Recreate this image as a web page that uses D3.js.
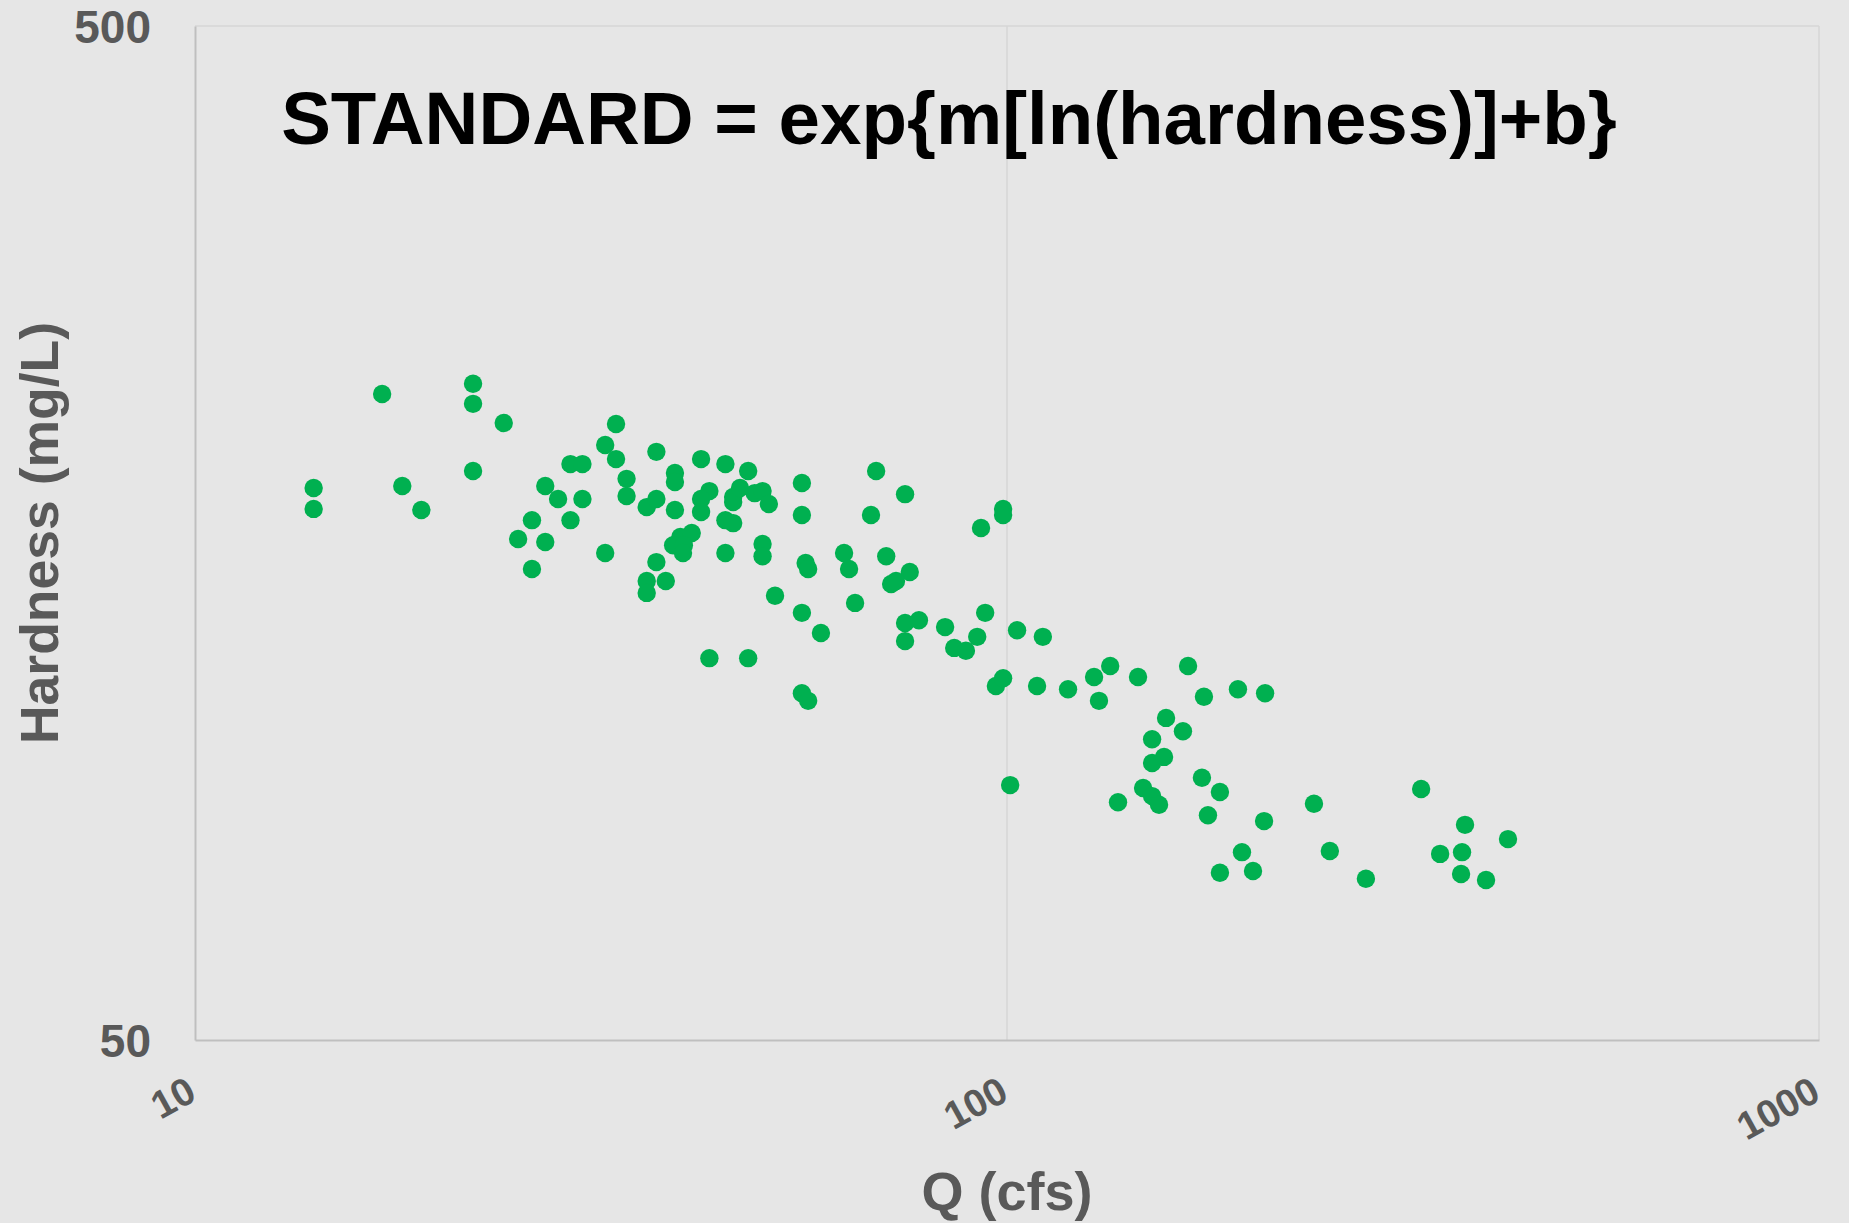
<!DOCTYPE html>
<html>
<head>
<meta charset="utf-8">
<script src="https://cdn.jsdelivr.net/npm/d3@7"></script>
<style>
  html, body { margin: 0; padding: 0; background: #e6e6e6; }
  svg { display: block; }
  text { font-family: "Liberation Sans", Arial, sans-serif; font-weight: bold; }
</style>
</head>
<body>
<svg id="chart" width="1849" height="1223"></svg>
<script>
// ---- data ----
const titleText = "STANDARD = exp{m[ln(hardness)]+b}";
const xTitle = "Q (cfs)";
const yTitle = "Hardness (mg/L)";
const xTicks = [10, 100, 1000];
const yTicks = [50, 500];

const flowQ = [
  14.0, 14.0, 17.0, 22.0, 22.0, 24.0, 22.0, 18.0, 19.0, 33.0,
  32.0, 33.0, 29.0, 30.0, 27.0, 28.0, 30.0, 26.0, 29.0, 25.0,
  27.0, 26.0, 32.0, 34.0, 34.0, 37.0, 36.0, 37.0, 39.0, 39.0,
  39.0, 42.0, 45.0, 48.0, 43.0, 42.0, 42.0, 46.0, 46.0, 46.9,
  48.9, 50.0, 50.9, 45.0, 46.0, 39.6, 40.9, 38.8, 40.0, 39.9,
  45.0, 37.0, 36.0, 36.0, 38.0, 43.0, 48.0, 50.0, 50.0, 51.8,
  55.9, 55.9, 69.0, 74.9, 68.0, 92.9, 98.9, 98.9, 56.5, 56.9,
  63.0, 63.9, 71.0, 75.9, 72.0, 73.0, 55.9, 59.0, 65.0, 74.9,
  77.9, 74.9, 83.9, 94.0, 91.9, 86.1, 89.0, 102.9, 110.7, 55.9,
  56.9, 96.9, 98.9, 108.9, 118.9, 128.0, 134.0, 129.8, 145.0, 167.1,
  174.8, 192.5, 207.9, 157.0, 164.7, 150.9, 156.1, 150.9, 100.9, 137.0,
  147.1, 150.9, 153.9, 173.8, 182.9, 176.8, 207.3, 238.8, 194.7, 182.9,
  200.9, 249.8, 276.7, 323.6, 366.5, 414.0, 341.5, 363.4, 362.4, 389.0
];
const hardness = [
  175.1, 167.0, 216.8, 221.9, 212.0, 203.0, 182.0, 175.9, 166.6, 202.5,
  193.1, 187.0, 184.9, 184.9, 175.9, 170.8, 170.8, 162.8, 162.8, 156.0,
  154.9, 145.7, 151.1, 178.8, 172.0, 190.1, 167.7, 170.8, 181.2, 177.5,
  166.6, 187.0, 184.9, 182.0, 173.9, 170.8, 165.8, 171.6, 169.6, 175.1,
  173.1, 173.9, 168.9, 162.8, 161.7, 156.7, 158.1, 153.8, 153.8, 151.1,
  151.1, 148.0, 141.8, 138.0, 141.8, 119.0, 119.0, 154.2, 150.0, 137.1,
  177.1, 164.7, 182.0, 172.7, 164.7, 159.9, 167.0, 164.7, 147.7, 145.7,
  151.1, 145.7, 150.0, 144.7, 140.8, 141.8, 131.9, 126.0, 134.9, 128.9,
  129.7, 123.7, 127.7, 131.9, 124.9, 121.8, 121.0, 126.8, 124.9, 109.9,
  108.0, 111.7, 113.7, 111.7, 110.9, 114.0, 116.9, 108.0, 114.0, 116.9,
  109.0, 110.9, 109.9, 103.9, 100.8, 99.0, 95.1, 93.8, 89.2, 85.8,
  88.6, 87.0, 85.3, 90.7, 87.8, 83.3, 82.2, 85.5, 76.6, 73.1,
  73.4, 76.8, 72.1, 88.4, 81.5, 78.9, 76.3, 76.6, 72.9, 71.9
];

// ---- layout ----
const svg = d3.select("#chart");
const plot = { left: 195, right: 1819, top: 26, bottom: 1040 };

const x = d3.scaleLog().domain([10, 1000]).range([plot.left, plot.right]);
const y = d3.scaleLog().domain([50, 500]).range([plot.bottom, plot.top]);

svg.append("rect").attr("width", 1849).attr("height", 1223).attr("fill", "#e6e6e6");

// gridlines
svg.append("g").selectAll("line.vg")
  .data(xTicks.filter(d => d !== 10))
  .join("line")
  .attr("x1", d => x(d)).attr("x2", d => x(d))
  .attr("y1", plot.top).attr("y2", plot.bottom)
  .attr("stroke", "#d6d6d6").attr("stroke-width", 1.5);
svg.append("g").selectAll("line.hg")
  .data(yTicks.filter(d => d !== 50))
  .join("line")
  .attr("x1", plot.left).attr("x2", plot.right)
  .attr("y1", d => y(d)).attr("y2", d => y(d))
  .attr("stroke", "#d6d6d6").attr("stroke-width", 1.5);

// axes
const xAxis = d3.axisBottom(x).tickValues(xTicks).tickSize(0).tickFormat(d3.format("d"));
const gx = svg.append("g").attr("transform", `translate(0,${plot.bottom})`).call(xAxis);
gx.select(".domain").attr("stroke", "#bfbfbf").attr("stroke-width", 2);
gx.selectAll(".tick text")
  .attr("y", null).attr("dy", null)
  .attr("text-anchor", "end")
  .attr("transform", "translate(3,59) rotate(-29)")
  .attr("fill", "#595959")
  .style("font-size", "39px");

const yAxis = d3.axisLeft(y).tickValues(yTicks).tickSize(0).tickPadding(44).tickFormat(d3.format("d"));
const gy = svg.append("g").attr("transform", `translate(${plot.left},0)`).call(yAxis);
gy.select(".domain").attr("stroke", "#bfbfbf").attr("stroke-width", 2);
gy.selectAll(".tick text")
  .attr("dy", "0.36em")
  .attr("fill", "#595959")
  .style("font-size", "46px");

// points
svg.append("g").selectAll("circle")
  .data(flowQ.map((q, i) => ({ q, h: hardness[i] })))
  .join("circle")
  .attr("cx", d => x(d.q))
  .attr("cy", d => y(d.h))
  .attr("r", 9.2)
  .attr("fill", "#00b050");

// title
svg.append("text")
  .attr("x", 949).attr("y", 144)
  .attr("text-anchor", "middle")
  .attr("fill", "#000000")
  .style("font-size", "74.5px")
  .text(titleText);

// axis titles
svg.append("text")
  .attr("x", (plot.left + plot.right) / 2).attr("y", 1210)
  .attr("text-anchor", "middle")
  .attr("fill", "#595959")
  .style("font-size", "54px")
  .text(xTitle);

svg.append("text")
  .attr("transform", "translate(58,533) rotate(-90)")
  .attr("text-anchor", "middle")
  .attr("fill", "#595959")
  .style("font-size", "53.5px")
  .text(yTitle);
</script>
</body>
</html>
